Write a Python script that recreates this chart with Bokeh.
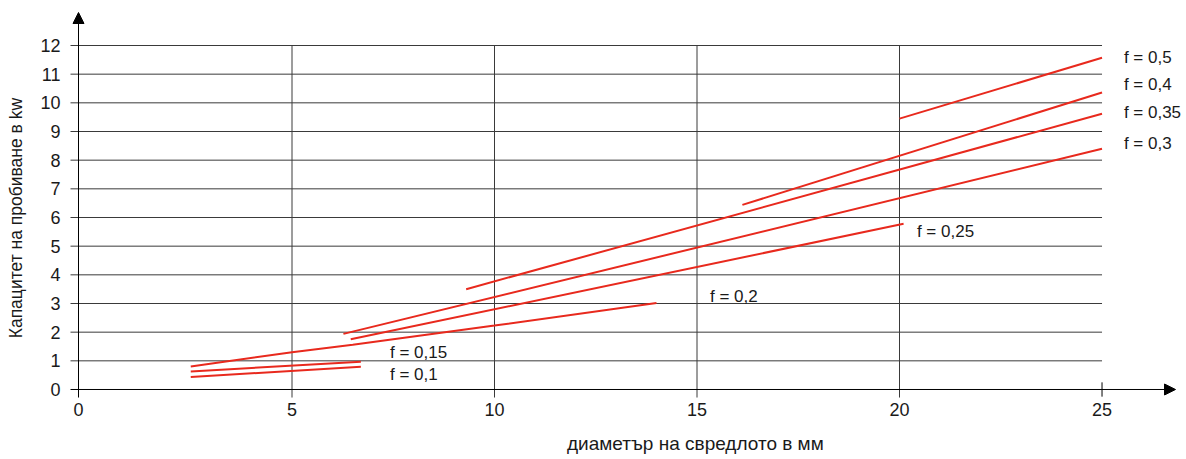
from bokeh.plotting import figure
from bokeh.models import Range1d, Arrow, NormalHead, FixedTicker, LinearAxis, ColumnDataSource
from bokeh.core.properties import value
from bokeh.embed import file_html
from bokeh.resources import INLINE

# ---- data ----
x_ticks = [0, 5, 10, 15, 20, 25]
y_ticks = [0, 1, 2, 3, 4, 5, 6, 7, 8, 9, 10, 11, 12]
v_grid = [5, 10, 15, 20]

f01_x = [2.5, 6.7]
f01_y = [0.44, 0.79]
f015_x = [2.5, 6.7]
f015_y = [0.63, 0.97]
f02_x = [2.5, 5.0, 6.5, 10.0, 14.0]
f02_y = [0.80, 1.30, 1.56, 2.23, 3.02]
f025_x = [6.45, 20.1]
f025_y = [1.75, 5.78]
f03_x = [6.27, 25.0]
f03_y = [1.94, 8.40]
f035_x = [9.3, 25.0]
f035_y = [3.50, 9.62]
f04_x = [16.12, 25.0]
f04_y = [6.44, 10.36]
f05_x = [20.0, 25.0]
f05_y = [9.45, 11.57]

series_x = [f01_x, f015_x, f02_x, f025_x, f03_x, f035_x, f04_x, f05_x]
series_y = [f01_y, f015_y, f02_y, f025_y, f03_y, f035_y, f04_y, f05_y]

label_text = ["f = 0,1", "f = 0,15", "f = 0,2", "f = 0,25", "f = 0,3", "f = 0,35", "f = 0,4", "f = 0,5"]
label_x = [7.42, 7.42, 15.32, 20.43, 25.54, 25.54, 25.54, 25.54]
label_y = [0.52, 1.30, 3.25, 5.51, 8.59, 9.67, 10.63, 11.59]

x_title = "диаметър на свредлото в мм"
y_title = "Капацитет на пробиване в kw"
x_title_pos = 14.96
y_title_pos = 5.98

# ---- layout (data units) ----
X_LO, X_HI = -0.6667, 27.086      # frame spans the full width
Y_LO, Y_HI = -0.314, 13.570
AXIS_X = -0.2716                  # where the vertical axis is drawn
AXIS_X_START = -0.469             # left end of the horizontal axis
AXIS_Y_BOTTOM = -0.28             # lower end of the vertical axis / grid
X_TIP = 26.815                    # arrow tip of the x axis
Y_TIP = 13.151                    # arrow tip of the y axis
TICK = 0.25

FONT = "Liberation Sans"
RED = "#e8291d"
GRID = "#3a3a3a"
TXT = "#1a1a1a"

p = figure(width=1186, height=459, output_backend="svg", toolbar_location=None,
           x_range=Range1d(X_LO, X_HI), y_range=Range1d(Y_LO, Y_HI),
           min_border_left=62, min_border_right=0, min_border_top=0, min_border_bottom=61)
p.outline_line_color = None
p.xgrid.visible = False
p.ygrid.visible = False

# grid lines
n_h = len(y_ticks) - 1
p.segment(x0=[AXIS_X_START] * n_h, y0=y_ticks[1:], x1=[x_ticks[-1]] * n_h, y1=y_ticks[1:],
          line_color=GRID, line_width=1)
p.segment(x0=v_grid, y0=[AXIS_Y_BOTTOM] * len(v_grid), x1=v_grid, y1=[y_ticks[-1]] * len(v_grid),
          line_color=GRID, line_width=1)
# tick at the last x value
p.segment(x0=[x_ticks[-1]], y0=[-TICK], x1=[x_ticks[-1]], y1=[TICK], line_color="black", line_width=1)

# axes with arrows
p.add_layout(Arrow(end=NormalHead(size=11, fill_color="black", line_color="black"),
                   x_start=AXIS_X, y_start=AXIS_Y_BOTTOM, x_end=AXIS_X, y_end=Y_TIP,
                   line_color="black", line_width=1))
p.add_layout(Arrow(end=NormalHead(size=11, fill_color="black", line_color="black"),
                   x_start=AXIS_X_START, y_start=0, x_end=X_TIP, y_end=0,
                   line_color="black", line_width=1))

# series
for xs, ys in zip(series_x, series_y):
    p.line(xs, ys, line_color=RED, line_width=2)

src = ColumnDataSource(dict(x=label_x, y=label_y, t=label_text))
p.text(x="x", y="y", text="t", source=src, text_font=value(FONT), text_font_size="17px",
       text_baseline="middle", text_align="left", text_color=TXT)

# tick labels through Bokeh axes (lines drawn above)
def style(ax, size="18px"):
    ax.axis_line_color = None
    ax.major_tick_line_color = None
    ax.minor_tick_line_color = None
    ax.major_tick_in = 0
    ax.major_tick_out = 0
    ax.major_label_text_font = FONT
    ax.major_label_text_font_size = size
    ax.major_label_text_color = TXT

xa = p.xaxis[0]
style(xa)
x_tick_pos = [AXIS_X] + x_ticks[1:]
xa.ticker = FixedTicker(ticks=x_tick_pos)
xa.major_label_overrides = {AXIS_X: str(x_ticks[0])}
xa.major_label_standoff = 4

ya = p.yaxis[0]
style(ya)
ya.ticker = FixedTicker(ticks=y_ticks)
ya.major_label_standoff = 2

# axis titles, each placed at its own position on the scale
xt = LinearAxis()
style(xt, "19px")
xt.ticker = FixedTicker(ticks=[x_title_pos])
xt.major_label_overrides = {x_title_pos: x_title}
xt.major_label_standoff = 14
p.add_layout(xt, "below")

yt = LinearAxis()
style(yt, "17.5px")
yt.ticker = FixedTicker(ticks=[y_title_pos])
yt.major_label_overrides = {y_title_pos: y_title}
yt.major_label_orientation = "vertical"
yt.major_label_standoff = 11
p.add_layout(yt, "left")

open("out.html", "w").write(file_html(p, INLINE))
